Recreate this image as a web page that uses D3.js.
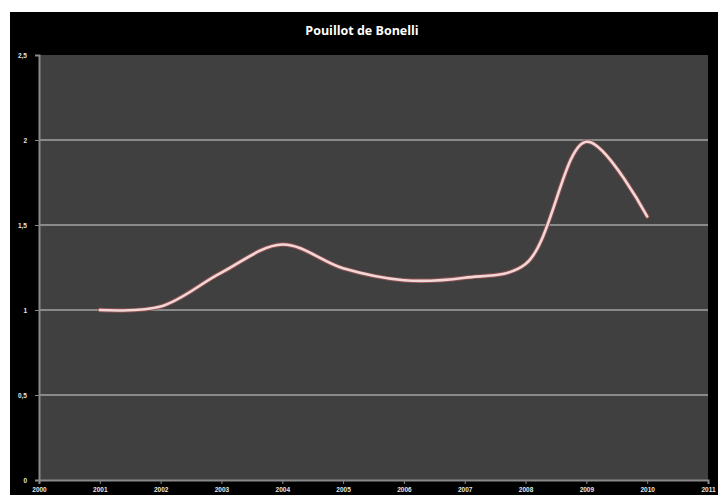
<!DOCTYPE html>
<html><head><meta charset="utf-8">
<script src="https://cdn.jsdelivr.net/npm/d3@7"></script>
<style>html,body{margin:0;padding:0;background:#fff;}svg{display:block;}</style>
</head><body>
<script>
const title = "Pouillot de Bonelli";
const years = [2001, 2002, 2003, 2004, 2005, 2006, 2007, 2008, 2009, 2010];
const values = [1.0, 1.02, 1.22, 1.385, 1.245, 1.175, 1.19, 1.27, 1.99, 1.55];
const xTicks = [2000, 2001, 2002, 2003, 2004, 2005, 2006, 2007, 2008, 2009, 2010, 2011];
const yTicks = [0, 0.5, 1, 1.5, 2, 2.5];

const W = 718, H = 495;
const svg = d3.select("body").append("svg").attr("width", W).attr("height", H);
svg.append("rect").attr("x", 10).attr("y", 12).attr("width", W - 10).attr("height", H - 12).attr("fill", "#000");

const L = 39, R = 708, T = 55, B = 480;
const x = d3.scaleLinear().domain([2000, 2011]).range([L, R]);
const y = d3.scaleLinear().domain([0, 2.5]).range([B, T]);

svg.append("rect").attr("x", L).attr("y", T).attr("width", R - L).attr("height", B - T).attr("fill", "#404040");

// gridlines
svg.append("g").selectAll("line").data(yTicks.filter(d => d > 0 && d < 2.5)).join("line")
  .attr("x1", L).attr("x2", R).attr("y1", d => y(d)).attr("y2", d => y(d))
  .attr("stroke", "#8a8a8a").attr("stroke-width", 2);

const fmt = d => String(d).replace(".", ",");
const yAxis = svg.append("g").attr("transform", `translate(${L},0)`)
  .call(d3.axisLeft(y).tickValues(yTicks).tickFormat(fmt).tickSize(4).tickPadding(8));
const xAxis = svg.append("g").attr("transform", `translate(0,${B})`)
  .call(d3.axisBottom(x).tickValues(xTicks).tickFormat(d3.format("d")).tickSize(4).tickPadding(3));
[yAxis, xAxis].forEach(a => {
  a.select(".domain").attr("stroke", "#8a8a8a").attr("stroke-width", 2);
  a.selectAll(".tick line").attr("stroke", "#8a8a8a");
  a.selectAll("text").attr("fill", "#e6e6e6").attr("font-family", "Liberation Sans, Arial, sans-serif")
    .attr("font-size", 6.5).attr("font-weight", "bold");
});

const line = d3.line().x((d, i) => x(years[i])).y(d => y(d)).curve(d3.curveCatmullRom.alpha(0.5));
svg.append("path").datum(values).attr("d", line).attr("fill", "none")
  .attr("stroke", "#8a5050").attr("stroke-width", 4.5).attr("stroke-linecap", "round");
svg.append("path").datum(values).attr("d", line).attr("fill", "none")
  .attr("stroke", "#f3d6d6").attr("stroke-width", 2.6).attr("stroke-linecap", "round");

svg.append("text").attr("x", 362).attr("y", 35).attr("text-anchor", "middle")
  .attr("fill", "#fff").attr("font-family", "Open Sans, Liberation Sans, sans-serif")
  .attr("font-weight", "bold").attr("font-size", 12.5).text(title);
</script>
</body></html>
